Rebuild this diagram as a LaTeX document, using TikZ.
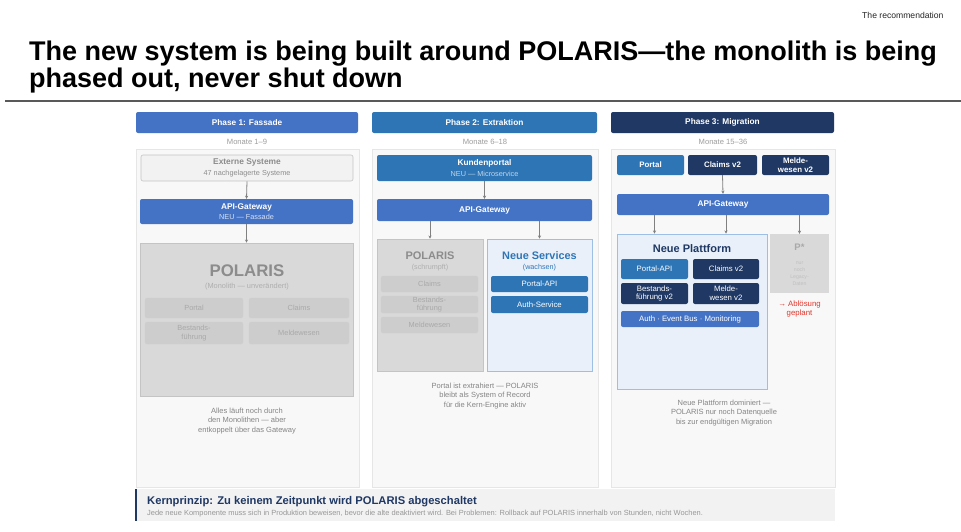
\documentclass[tikz,border=0pt]{standalone}
\usepackage{fontspec}
\setmainfont{Liberation Sans}
\usetikzlibrary{arrows.meta}

\definecolor{pblue}{HTML}{4472C4}
\definecolor{sblue}{HTML}{2E75B6}
\definecolor{navy}{HTML}{1F3864}
\definecolor{legacy}{HTML}{D9D9D9}
\definecolor{legacyline}{HTML}{C4C4C4}
\definecolor{legacysub}{HTML}{CDCDCD}
\definecolor{legacytext}{HTML}{8C8C8C}
\definecolor{panelfill}{HTML}{F8F8F8}
\definecolor{panelline}{HTML}{E6E6E6}
\definecolor{newfill}{HTML}{E9F0FA}
\definecolor{newline}{HTML}{9DBFE6}
\definecolor{captext}{HTML}{858585}
\definecolor{warnred}{HTML}{E0352B}
\definecolor{kernfill}{HTML}{F2F2F2}

% box node from corner (x1,y1) to (x2,y2), in pixel units
\newcommand\bnode[7]{%
  \pgfmathsetmacro\bw{#4-#2}\pgfmathsetmacro\bh{#5-#3}%
  \node[#6, minimum width=\bw pt, minimum height=\bh pt, inner sep=0pt]
    (#1) at ({(#2+#4)/2},{(#3+#5)/2}) {#7};}

\newcommand\fs[2]{\fontsize{#1}{#2}\selectfont}

\tikzset{
  x=1pt, y=-1pt,
  every node/.style={align=center},
  head/.style={rounded corners=2pt, text=white, font=\fs{8.3}{9}\bfseries},
  panel/.style={draw=panelline, fill=panelfill, line width=0.6pt},
  extbox/.style={rounded corners=2pt, draw=legacyline, fill=kernfill, line width=0.6pt, text=legacytext},
  fillbox/.style={rounded corners=2pt, fill=#1, text=white},
  legacybox/.style={draw=legacyline, fill=legacy, line width=0.6pt},
  legacysubbox/.style={rounded corners=2pt, fill=legacysub, draw=legacyline!80!white, line width=0.4pt, text=legacytext!75!white, font=\fs{7.4}{8.4}},
  newbox/.style={draw=newline, fill=newfill, line width=0.8pt},
  months/.style={text=captext!80!white, font=\fs{7.6}{8}},
  caption/.style={text=captext, font=\fs{7.5}{9.3}},
  smallbox/.style={font=\fs{7.8}{8.6}},
  topbox/.style={font=\fs{7.9}{8.8}\bfseries},
  arr/.style={draw=gray, line width=0.8pt, -{Stealth[length=3.2pt,width=3.2pt]}},
}

\begin{document}
\begin{tikzpicture}
\useasboundingbox[fill=white] (0,0) rectangle (961,531);

% ---------- page header ----------
\node[anchor=east, font=\fs{8.6}{9}, text=black!85] (tag) at (947,15) {The recommendation};
\node[anchor=north west, align=left, font=\fs{27}{24.5}\bfseries, inner sep=0pt] (title) at (29,41)
  {The new system is being built around POLARIS—the monolith is being\\phased out, never shut down};
\coordinate (ruleL) at (5,101);
\coordinate (ruleR) at (961,101);
\draw[line width=1.2pt, black!65] (ruleL) -- (ruleR);

% ---------- phase panels ----------
\bnode{pan1}{136}{149}{359}{487}{panel}{}
\bnode{pan2}{372}{149}{598}{487}{panel}{}
\bnode{pan3}{611}{149}{835}{487}{panel}{}

\bnode{h1}{136}{112}{358}{133}{head, fill=pblue}{Phase 1: Fassade}
\bnode{h2}{372}{112}{597}{133}{head, fill=sblue}{Phase 2: Extraktion}
\bnode{h3}{611}{112}{834}{133}{head, fill=navy}{Phase 3: Migration}

\node[months] (m1) at (247,142) {Monate 1–9};
\node[months] (m2) at (485,142) {Monate 6–18};
\node[months] (m3) at (723,142) {Monate 15–36};

% ---------- Phase 1 ----------
\bnode{ext1}{141}{155}{353}{181}{extbox}{{\fs{8.4}{9}\bfseries Externe Systeme}\\[-1.5pt]{\fs{7.3}{8}47 nachgelagerte Systeme}}
\bnode{gw1}{140}{199}{353}{224}{fillbox=pblue}{{\fs{8.3}{9}\bfseries API-Gateway}\\[-1.5pt]{\fs{7.3}{8}\color{white!80!pblue}NEU — Fassade}}
\bnode{pol1}{140}{243}{353}{396}{legacybox}{}
\node[text=legacytext, font=\fs{16.8}{18}\bfseries] (pol1t) at (247,271) {POLARIS};
\node[text=legacytext!70!white, font=\fs{7.4}{8}] (pol1s) at (247,287) {(Monolith — unverändert)};
\bnode{l1a}{145}{298}{243}{318}{legacysubbox}{Portal}
\bnode{l1b}{249}{298}{349}{318}{legacysubbox}{Claims}
\bnode{l1c}{145}{322}{243}{344}{legacysubbox}{Bestands-\\führung}
\bnode{l1d}{249}{322}{349}{344}{legacysubbox}{Meldewesen}
\node[caption] (cap1) at (247,421) {Alles läuft noch durch\\den Monolithen — aber\\entkoppelt über das Gateway};

\draw[arr] (ext1.south) -- (gw1.north);
\draw[arr] (gw1.south) -- (pol1.north);

% ---------- Phase 2 ----------
\bnode{kp2}{377}{155}{592}{181}{fillbox=sblue}{{\fs{8.3}{9}\bfseries Kundenportal}\\[-1.5pt]{\fs{7.3}{8}\color{white!70!sblue}NEU — Microservice}}
\bnode{gw2}{377}{199}{592}{221}{fillbox=pblue, font=\fs{8.3}{9}\bfseries}{API-Gateway}
\bnode{pol2}{377}{239}{483}{371}{legacybox}{}
\node[text=legacytext, font=\fs{11}{12}\bfseries] (pol2t) at (430,256) {POLARIS};
\node[text=legacytext!70!white, font=\fs{7.2}{8}] (pol2s) at (430,268) {(schrumpft)};
\bnode{l2a}{381}{276}{478}{292}{legacysubbox}{Claims}
\bnode{l2b}{381}{296}{478}{313}{legacysubbox}{Bestands-\\führung}
\bnode{l2c}{381}{317}{478}{333}{legacysubbox}{Meldewesen}
\bnode{ns2}{487}{239}{592}{371}{newbox}{}
\node[text=sblue, font=\fs{10.9}{12}\bfseries] (ns2t) at (539.5,256) {Neue Services};
\node[text=sblue, font=\fs{7.2}{8}] (ns2s) at (539.5,268) {(wachsen)};
\bnode{s2a}{491}{276}{588}{292}{fillbox=sblue, smallbox}{Portal-API}
\bnode{s2b}{491}{296}{588}{313}{fillbox=sblue, smallbox}{Auth-Service}
\node[caption] (cap2) at (485,396) {Portal ist extrahiert — POLARIS\\bleibt als System of Record\\für die Kern-Engine aktiv};

\draw[arr] (kp2.south) -- (gw2.north);
\draw[arr] (gw2.south -| pol2.north) -- (pol2.north);
\draw[arr] (gw2.south -| ns2.north) -- (ns2.north);

% ---------- Phase 3 ----------
\bnode{t3a}{617}{155}{684}{175}{fillbox=sblue, topbox}{Portal}
\bnode{t3b}{688}{155}{757}{175}{fillbox=navy, topbox}{Claims v2}
\bnode{t3c}{762}{155}{829}{175}{fillbox=navy, topbox}{Melde-\\wesen v2}
\bnode{gw3}{617}{194}{829}{215}{fillbox=pblue, font=\fs{8.3}{9}\bfseries}{API-Gateway}
\bnode{np3}{617}{234}{767}{389}{newbox}{}
\node[text=navy, font=\fs{11}{12}\bfseries] (np3t) at (692,249) {Neue Plattform};
\bnode{n3a}{621}{259}{688}{279}{fillbox=sblue, smallbox}{Portal-API}
\bnode{n3b}{693}{259}{759}{279}{fillbox=navy, smallbox}{Claims v2}
\bnode{n3c}{621}{283}{688}{304}{fillbox=navy, smallbox}{Bestands-\\führung v2}
\bnode{n3d}{693}{283}{759}{304}{fillbox=navy, smallbox}{Melde-\\wesen v2}
\bnode{n3e}{621}{311}{759}{327}{fillbox=pblue, smallbox}{Auth · Event Bus · Monitoring}
\bnode{p3}{770}{234}{829}{293}{fill=legacy}{}
\node[text=legacytext!75!white, font=\fs{9.5}{10}\bfseries] (p3t) at (799.5,247) {P*};
\node[text=legacytext!55!white, font=\fs{5.2}{7}] (p3s) at (799.5,273.5) {nur\\noch\\Legacy-\\Daten};
\node[text=warnred, font=\fs{7.8}{9}] (p3w) at (799.5,308.5) {→ Ablösung\\geplant};
\node[caption] (cap3) at (724,413) {Neue Plattform dominiert —\\POLARIS nur noch Datenquelle\\bis zur endgültigen Migration};

\draw[arr] (t3b.south) -- (gw3.north);
\draw[arr] (gw3.south -| n3a.north) -- (n3a.north |- np3.north);
\draw[arr] (gw3.south -| n3b.north) -- (n3b.north |- np3.north);
\draw[arr] (gw3.south -| p3.north) -- (p3.north);

% ---------- key principle ----------
\bnode{kern}{135}{489}{835}{521}{fill=kernfill}{}
\coordinate (barT) at (kern.north west);
\coordinate (barB) at (kern.south west);
\draw[navy, line width=2.6pt] ([xshift=1.3pt]barT) -- ([xshift=1.3pt]barB);
\node[anchor=west, text=navy, font=\fs{11.2}{12}\bfseries, inner sep=0pt] (kernt) at (147,501.5) {Kernprinzip: Zu keinem Zeitpunkt wird POLARIS abgeschaltet};
\node[anchor=west, text=captext!85!white, font=\fs{7.45}{8}, inner sep=0pt] (kerns) at (147,513.5) {Jede neue Komponente muss sich in Produktion beweisen, bevor die alte deaktiviert wird. Bei Problemen: Rollback auf POLARIS innerhalb von Stunden, nicht Wochen.};

\end{tikzpicture}
\end{document}
